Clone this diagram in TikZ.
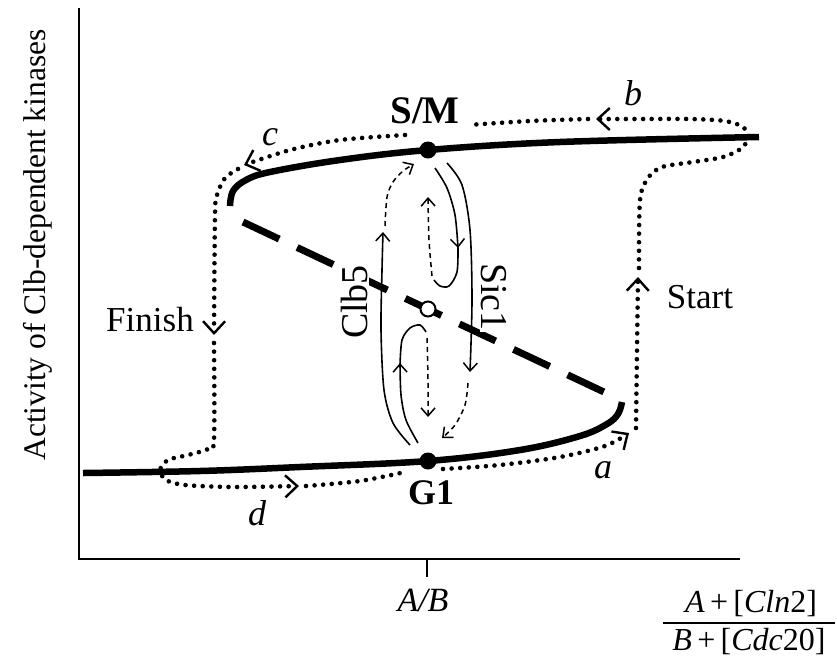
\documentclass[tikz,border=0pt]{standalone}
\usepackage{fontspec}
\setmainfont{Liberation Serif}
\usetikzlibrary{arrows.meta}
\tikzset{
  axisline/.style={line width=2pt},
  thickbranch/.style={line width=6.5pt, line cap=butt},
  unstable/.style={line width=7pt, dash pattern=on 40pt off 19.8pt},
  dotpath/.style={line width=4.6pt, line cap=round, dash pattern=on 0pt off 8.6pt},
  bigtip/.style={-{Straight Barb[length=12pt,width=22pt,line width=2.4pt]}},
  thinsolid/.style={line width=1.6pt},
  thindash/.style={line width=1.5pt, dash pattern=on 5pt off 4pt},
  smalltip/.style={-{Straight Barb[length=8pt,width=14pt,line width=1.5pt]}},
  lbl/.style={inner sep=0pt, font=\fontsize{35}{40}\selectfont},
  blbl/.style={inner sep=0pt, font=\fontsize{36}{40}\selectfont\bfseries},
  ilbl/.style={inner sep=0pt, font=\fontsize{36}{40}\selectfont\itshape},
  vlbl/.style={inner sep=1.5pt, fill=white, font=\fontsize{38}{42}\selectfont},
}
\begin{document}
\begin{tikzpicture}[x=1pt,y=-1pt]
\useasboundingbox (0,0) rectangle (837,665);
% axes
\coordinate (ytop) at (79,8);
\coordinate (orig) at (79,559);
\coordinate (xend) at (740,559);
\draw[axisline] (ytop) -- (orig) -- (xend);
\coordinate (tick0) at (427,559);
\coordinate (tick1) at (427,577);
\draw[line width=1.3pt] (tick0) -- (tick1);
% axis labels
\node[lbl, font=\fontsize{31.5}{36}\selectfont, rotate=90] (ylab) at (38,245) {Activity of Clb-dependent kinases};
\node[inner sep=0pt, font=\fontsize{34}{40}\selectfont\itshape] (ab) at (423,600) {A/B};
\node[inner sep=0pt, font=\fontsize{32}{38}\selectfont] (num) at (751,604) {\textit{A}\,+\,[\textit{Cln}2]};
\node[inner sep=0pt, font=\fontsize{32}{38}\selectfont] (den) at (749,642) {\textit{B}\,+\,[\textit{Cdc}20]};
\coordinate (barL) at (663,623);
\coordinate (barR) at (835,623);
\draw[line width=1.5pt] (barL) -- (barR);

% branches
\draw[thickbranch] plot[smooth, tension=0.6] coordinates {(230,206) (233,191) (246,180) (270,172) (340,160) (428,150) (560,142) (759,137)};
\draw[thickbranch] plot[smooth, tension=0.6] coordinates {(83,473) (200,471) (300,467) (428,461) (520,450) (580,436) (607,424) (618,414) (622,402)};
\coordinate (uA) at (243,222);
\coordinate (uB) at (604,392);
\draw[unstable] (uA) -- (uB);

% dotted trajectory
\draw[dotpath, bigtip] plot[smooth] coordinates {(443,469) (500,465) (560,457) (605,446) (629,433)};
\draw[dotpath, bigtip] plot[smooth] coordinates {(636,428) (637,350) (638,277)};
\draw[dotpath, bigtip] plot[smooth] coordinates {(639,268) (640,200) (648,178) (662,167) (693,162) (723,157) (742,148) (748,137) (743,127) (725,121) (690,119) (640,119) (596,119)};
\draw[dotpath] plot[smooth] coordinates {(588,119) (530,121) (468,125)};
\draw[dotpath, bigtip] plot[smooth] coordinates {(405,135) (340,140) (290,150) (244,165)};
\draw[dotpath, bigtip] plot[smooth] coordinates {(238,169) (225,178) (217,195) (215,215) (214,335)};
\draw[dotpath, bigtip] plot[smooth] coordinates {(214,343) (214,440) (208,449) (188,455) (168,460) (160,470) (166,480) (185,485) (233,487) (299,486)};
\draw[dotpath] plot[smooth] coordinates {(306,486) (360,481) (405,472)};

% inner cycles
\draw[thinsolid, smalltip] plot[smooth] coordinates {(410,445) (393,423) (384,390) (381,330) (382,270) (383,232)};
\draw[thindash, smalltip] plot[smooth] coordinates {(385,226) (387,197) (393,182) (403,171) (414,164)};
\draw[thinsolid, smalltip] plot[smooth] coordinates {(435,168) (447,188) (455,215) (458,248)};
\draw[thinsolid] plot[smooth] coordinates {(458,246) (457,272) (449,286) (440,286) (434,280)};
\draw[thindash, smalltip] plot[smooth] coordinates {(432,276) (429,240) (428,197)};
\draw[thinsolid, smalltip] plot[smooth] coordinates {(447,163) (462,185) (470,230) (472,300) (470,372)};
\draw[thindash, smalltip] plot[smooth] coordinates {(468,383) (465,405) (455,425) (442,438)};
\draw[thinsolid, smalltip] plot[smooth] coordinates {(418,443) (406,420) (401,395) (400,363)};
\draw[thinsolid] plot[smooth] coordinates {(400,365) (402,340) (410,328) (420,325) (426,332)};
\draw[thindash, smalltip] plot[smooth] coordinates {(427,338) (428,380) (428,417)};

% states
\node[circle, fill=black, minimum size=17pt, inner sep=0pt] (sm) at (428,150) {};
\node[circle, fill=black, minimum size=17pt, inner sep=0pt] (g1) at (428,461) {};
\node[circle, fill=white, draw=black, line width=2pt, minimum size=15pt, inner sep=0pt] (us) at (428,309) {};

% labels
\node[blbl, font=\fontsize{39}{42}\selectfont\bfseries] (smlab) at (425,111) {S/M};
\node[blbl] (g1lab) at (431,493) {G1};
\node[ilbl] (la) at (603,470) {a};
\node[ilbl] (lb) at (633,93) {b};
\node[ilbl] (lc) at (270,137) {c};
\node[ilbl] (ld) at (257,513) {d};
\node[lbl] (fin) at (150,320) {Finish};
\node[lbl] (sta) at (700,297) {Start};
\node[vlbl, rotate=90] (clb) at (354,302) {Clb5};
\node[vlbl, rotate=-90] (sic) at (494,297) {Sic1};
\end{tikzpicture}
\end{document}
